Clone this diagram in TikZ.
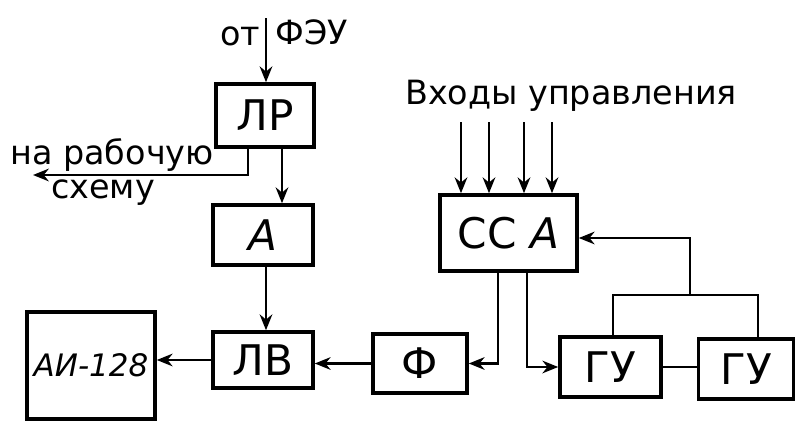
\documentclass[tikz,border=0pt]{standalone}
\usepackage{fontspec}
\setmainfont{DejaVu Sans}
\usetikzlibrary{calc,arrows.meta}
\tikzset{
  blk/.style={draw, line width=1pt, inner sep=0pt, font=\fontsize{12}{14}\selectfont},
  arr/.style={line width=0.7pt, -{Stealth[length=4.5pt,width=3.6pt]}},
  wire/.style={line width=0.7pt},
  lbl/.style={inner sep=0pt, font=\fontsize{9.5}{11}\selectfont}
}

\begin{document}
\begin{tikzpicture}[x=0.01cm, y=-0.01cm]
		%%%%% START %%%%%
		\useasboundingbox (0,0) rectangle (796,421);
		
		\node[blk, minimum width=0.98cm, minimum height=0.63cm] (lr) at (265,115.5) {ЛР};
		\node[blk, minimum width=1.00cm, minimum height=0.60cm] (a) at (263,235) {\itshape А};
		\node[blk, minimum width=1.00cm, minimum height=0.56cm] (lv) at (263,360) {ЛВ};
		\node[blk, minimum width=1.28cm, minimum height=1.07cm] (ai) at (91,365.5) {\fontsize{8.8}{11}\selectfont\itshape АИ-128};
		\node[blk, minimum width=0.94cm, minimum height=0.59cm] (f) at (420,363.5) {Ф};
		\node[blk, minimum width=1.37cm, minimum height=0.76cm] (cca) at (508.5,233) {СС \itshape А};
		\node[blk, minimum width=1.01cm, minimum height=0.60cm] (gu1) at (610.5,367) {ГУ};
		\node[blk, minimum width=0.95cm, minimum height=0.60cm] (gu2) at (746,369) {ГУ};
		
		% labels
		\node[lbl] (ot) at (240,36) {от};
		\node[lbl] (pmt) at (312,32) {ФЭУ};
		\node[lbl] (work) at (112,155) {на рабочую};
		\node[lbl] (scheme) at (103,193) {схему};
		\node[lbl] (ctrl) at (571,96) {Входы управления};
		
		% left chain
		\coordinate (pin) at (266,18);
		\draw[arr] (pin) -- (pin |- lr.north);
		\coordinate (out) at (33,175);
		\draw[arr] ($(lr.south)+(-17,0)$) |- (out);
		\draw[arr] ($(lr.south)+(17,0)$) coordinate (p) -- (p |- a.north);
		\draw[arr] ($(a.south)+(3,0)$) coordinate (q) -- (q |- lv.north);
		\draw[arr] (lv.west) -- (ai.east |- lv.west);
		\draw[arr] (f.west) -- (lv.east |- f.west);
		
		% control inputs
		\foreach \x in {461,489,524,552}
			\draw[arr] (\x,122) -- (cca.north -| \x,0);
		
		\draw[arr] ($(cca.south)+(-10.5,0)$) |- (f.east);
		\draw[arr] ($(cca.south)+(18.5,0)$) |- (gu1.west);
		
		% feedback from the two ГУ
		\coordinate (fb) at (690,295);
		\draw[wire] ($(gu1.north)+(2.5,0)$) |- (fb) -| ($(gu2.north)+(12,0)$);
		\draw[arr] (fb) |- ($(cca.east)+(0,5)$);
		\draw[wire] (gu1.east) -- (gu1.east -| gu2.west);
		
		%%%%% END %%%%%
\end{tikzpicture}
\end{document}
